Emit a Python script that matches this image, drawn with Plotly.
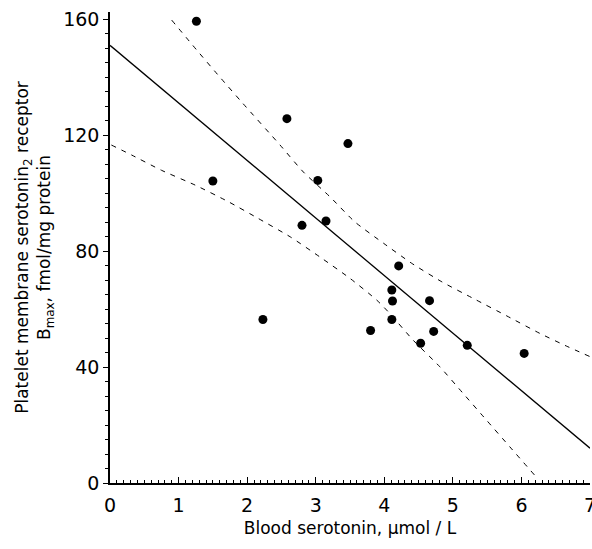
import plotly.graph_objects as go

# Data points
serotonin = [1.26, 2.58, 3.47, 1.50, 3.03, 3.15, 2.80, 4.21, 4.11, 4.12, 4.66,
             2.23, 4.11, 3.80, 4.72, 4.53, 5.21, 6.04]
bmax = [159.3, 125.7, 117.1, 104.2, 104.4, 90.4, 88.9, 74.9, 66.6, 62.8, 62.9,
        56.4, 56.4, 52.6, 52.3, 48.2, 47.5, 44.7]

# Regression line endpoints
fit_x = [0.0, 7.0]
fit_y = [151.0, 12.0]

# Confidence bands
upper_x = [0.90, 1.26, 1.60, 1.94, 2.48, 2.82, 3.21, 3.57, 3.99, 4.40, 4.84, 5.32, 5.79, 6.27, 6.66, 7.0]
upper_y = [159.7, 149.5, 140.1, 130.9, 116.6, 107.3, 98.7, 90.1, 82.7, 75.8, 69.4, 63.4, 57.6, 51.6, 47.2, 43.6]
lower_x = [0.02, 0.32, 0.75, 1.24, 1.73, 2.16, 2.63, 3.06, 3.50, 3.89, 4.08, 4.42, 4.81, 5.15, 5.49, 5.83, 6.20]
lower_y = [116.6, 113.1, 107.9, 102.8, 97.0, 91.3, 84.9, 78.0, 70.6, 63.1, 58.5, 49.3, 40.1, 30.9, 21.7, 12.5, 2.5]

x_ticks = [0, 1, 2, 3, 4, 5, 6, 7]
y_ticks = [0, 40, 80, 120, 160]

FONT = "DejaVu Sans"

fig = go.Figure()
fig.add_trace(go.Scatter(x=upper_x, y=upper_y, mode="lines",
                         line=dict(color="black", width=1, dash="5px,6px", shape="spline", smoothing=0.6),
                         showlegend=False, hoverinfo="skip"))
fig.add_trace(go.Scatter(x=lower_x, y=lower_y, mode="lines",
                         line=dict(color="black", width=1, dash="5px,6px", shape="spline", smoothing=0.6),
                         showlegend=False, hoverinfo="skip"))
fig.add_trace(go.Scatter(x=fit_x, y=fit_y, mode="lines",
                         line=dict(color="black", width=1.3),
                         showlegend=False, hoverinfo="skip"))
fig.add_trace(go.Scatter(x=serotonin, y=bmax, mode="markers",
                         marker=dict(color="black", size=9),
                         showlegend=False, cliponaxis=False))

fig.update_layout(
    width=592, height=549,
    margin=dict(l=110, r=2, t=12, b=66, autoexpand=False),
    paper_bgcolor="white", plot_bgcolor="white",
    font=dict(family=FONT, color="black", size=17),
    xaxis=dict(
        range=[0, 7.0], tickvals=x_ticks, ticktext=[str(v) for v in x_ticks],
        automargin=False, ticklabeloverflow="allow", ticklabelstandoff=4,
        showline=True, linecolor="black", linewidth=1.5,
        ticks="inside", ticklen=6, tickwidth=1.2, tickcolor="black",
        minor=dict(dtick=0.1, ticks="inside", ticklen=3, tickcolor="black", tickwidth=1),
        showgrid=False, zeroline=False,
        tickfont=dict(size=19, family=FONT),
        title=dict(text="Blood serotonin, µmol / L", font=dict(size=17, family=FONT), standoff=8),
    ),
    yaxis=dict(
        range=[0, 162.5], tickvals=y_ticks, ticktext=[str(v) for v in y_ticks],
        automargin=False, ticklabeloverflow="allow",
        showline=True, linecolor="black", linewidth=1.5,
        ticks="outside", ticklen=5, tickwidth=1.2, tickcolor="black",
        minor=dict(dtick=5, ticks="outside", ticklen=3, tickcolor="black", tickwidth=1),
        showgrid=False, zeroline=False,
        tickfont=dict(size=19, family=FONT),
        title=dict(text="Platelet membrane serotonin<sub>2</sub> receptor<br>B<sub>max</sub>, fmol/mg protein",
                   font=dict(size=17, family=FONT), standoff=8),
    ),
)

fig.write_html("out.html", config={"displayModeBar": False},
               post_script="document.body.style.margin='0';document.body.style.overflow='hidden';")
